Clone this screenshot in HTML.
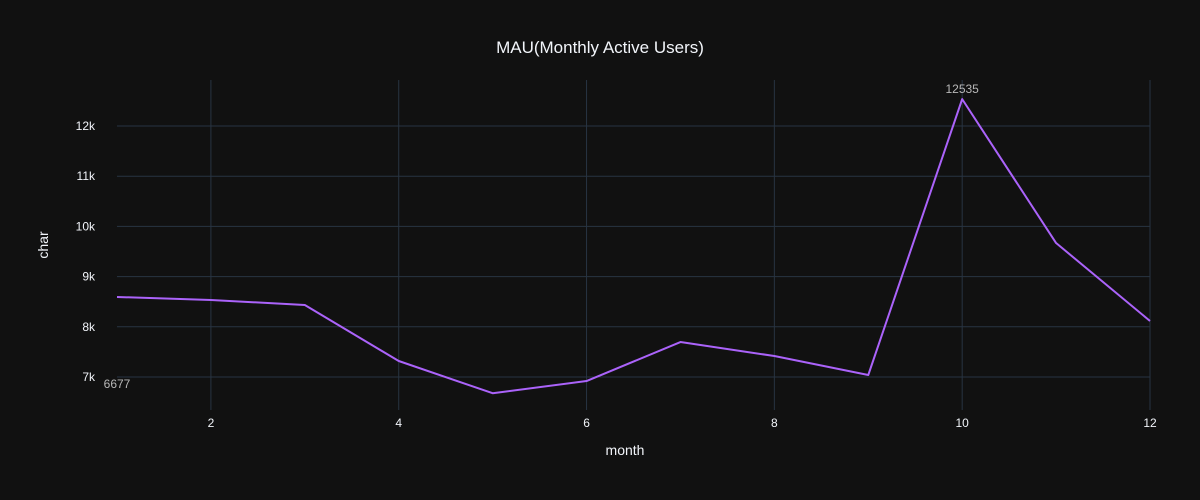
<!DOCTYPE html>
<html><head><meta charset="utf-8"><style>
html,body{margin:0;padding:0;background:#111111;overflow:hidden;width:1200px;height:500px;}
svg{display:block;}
svg text{font-family:"Liberation Sans",sans-serif;}
</style></head><body>
<svg id="chart" width="1200" height="500" xmlns="http://www.w3.org/2000/svg">
<rect width="1200" height="500" fill="#111111"/>
<g id="grid"></g><g id="marks"></g><g id="labels"></g>
<text x="600" y="53" text-anchor="middle" font-size="17" fill="#f2f5fa">MAU(Monthly Active Users)</text>
<text x="625" y="455" text-anchor="middle" font-size="14" fill="#f2f5fa">month</text>
<text x="48" y="245" text-anchor="middle" font-size="14" fill="#f2f5fa" transform="rotate(-90 48 245)">char</text>
</svg>
<script>
const months=[1,2,3,4,5,6,7,8,9,10,11,12];
const users=[8594,8534,8434,7319,6677,6920,7697,7418,7040,12535,9669,8116];
const xTicks=[2,4,6,8,10,12];
const yTicks=[7000,8000,9000,10000,11000,12000];
const yTickLabels=["7k","8k","9k","10k","11k","12k"];
const annotations=[{x:1,y:6677,text:"6677",dx:0,dy:-5},{x:10,y:12535,text:"12535",dx:0,dy:-6}];

const L=117,R=1150,T=80,B=410;
const xMin=1,xMax=12,yMin=6343,yMax=12916;
const X=v=>L+(v-xMin)/(xMax-xMin)*(R-L);
const Y=v=>B-(v-yMin)/(yMax-yMin)*(B-T);
const NS="http://www.w3.org/2000/svg";
function mk(tag,attrs,parent){const e=document.createElementNS(NS,tag);for(const k in attrs)e.setAttribute(k,attrs[k]);parent.appendChild(e);return e;}
const grid=document.getElementById('grid'),marks=document.getElementById('marks'),labels=document.getElementById('labels');
xTicks.forEach(t=>{
  const l=mk('line',{x1:X(t),x2:X(t),y1:T,y2:B,stroke:'#283442','stroke-width':1},grid);
  
  
  const tx=mk('text',{x:X(t),y:B+17,'text-anchor':'middle','font-size':12,fill:'#f2f5fa'},labels);
  tx.textContent=t;
  
  
});
yTicks.forEach((t,i)=>{
  const l=mk('line',{x1:L,x2:R,y1:Y(t),y2:Y(t),stroke:'#283442','stroke-width':1},grid);
  
  
  const tx=mk('text',{x:L-22,y:Y(t)+4,'text-anchor':'end','font-size':12,fill:'#f2f5fa'},labels);
  tx.textContent=yTickLabels[i];
  
  
});
const pts=months.map((m,i)=>X(m)+','+Y(users[i])).join(' ');
const pl=mk('polyline',{points:pts,fill:'none',stroke:'#ab63fa','stroke-width':2,'stroke-linejoin':'round'},marks);


annotations.forEach(a=>{
  const tx=mk('text',{x:X(a.x)+a.dx,y:Y(a.y)+a.dy,'text-anchor':'middle','font-size':12,fill:'#b8b8b8'},labels);
  tx.textContent=a.text;
  
  
});
</script>
</body></html>
